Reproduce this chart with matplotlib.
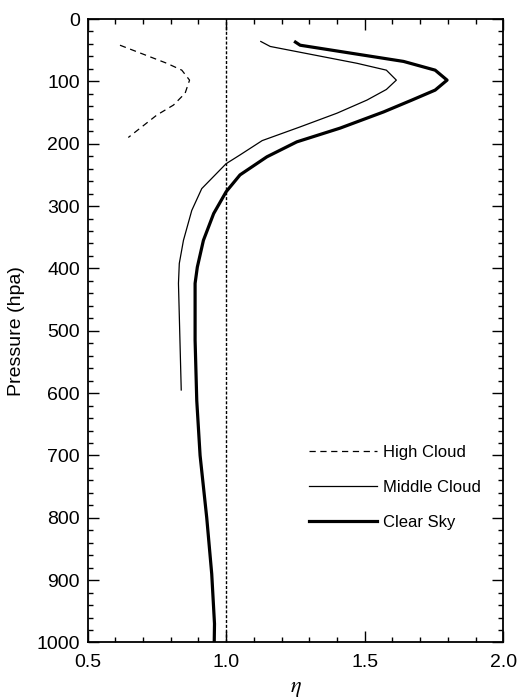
import numpy as np
import matplotlib
matplotlib.use('Agg')
import matplotlib.pyplot as plt
from matplotlib.ticker import MultipleLocator

plt.rcParams['font.family'] = ['Liberation Sans', 'DejaVu Sans']
plt.rcParams['mathtext.fontset'] = 'stix'
plt.rcParams['lines.scale_dashes'] = False

# clear sky (thick line)
p_clear = [37, 42, 68, 82, 98, 114, 130, 149, 175, 197, 221, 250, 277, 312,
           355, 398, 424, 515, 612, 700, 800, 890, 970, 1000]
eta_clear = [1.25, 1.267, 1.640, 1.754, 1.797, 1.754, 1.670, 1.568, 1.411, 1.255,
             1.147, 1.050, 1.0, 0.955, 0.918, 0.896, 0.888, 0.888, 0.894, 0.906,
             0.930, 0.948, 0.958, 0.957]

# middle cloud (thin line)
p_mid = [36, 44, 71, 82, 98, 113, 130, 151, 173, 195, 218, 232, 272,
         307, 355, 392, 424, 595]
eta_mid = [1.125, 1.159, 1.472, 1.578, 1.614, 1.578, 1.508, 1.400, 1.267, 1.13,
           1.05, 1.0, 0.912, 0.876, 0.846, 0.831, 0.828, 0.838]

# high cloud (dashed line)
p_high = [42, 71, 82, 98, 119, 138, 154, 190]
eta_high = [0.617, 0.786, 0.840, 0.868, 0.852, 0.810, 0.750, 0.647]

fig = plt.figure(figsize=(5.18, 6.97), dpi=100)
ax = fig.add_axes([0.169, 0.0782, 0.8027, 0.8945])

ax.axvline(1.0, color='black', lw=1.0, dashes=(2.2, 1.3))
ax.plot(eta_high, p_high, color='black', lw=0.9, dashes=(4.5, 3.3), label='High Cloud')
ax.plot(eta_mid, p_mid, color='black', lw=0.9, label='Middle Cloud')
ax.plot(eta_clear, p_clear, color='black', lw=2.3, label='Clear Sky')

ax.set_xlim(0.5, 2.0)
ax.set_ylim(1000, 0)
ax.xaxis.set_major_locator(MultipleLocator(0.5))
ax.xaxis.set_minor_locator(MultipleLocator(0.1))
ax.yaxis.set_major_locator(MultipleLocator(100))
ax.yaxis.set_minor_locator(MultipleLocator(20))
ax.xaxis.set_major_formatter(matplotlib.ticker.FormatStrFormatter('%.1f'))

ax.tick_params(which='both', direction='in', top=True, right=True, width=1.0)
ax.tick_params(which='major', length=8, labelsize=14)
ax.tick_params(which='minor', length=3.8)
ax.tick_params(axis='x', pad=8.5)
ax.tick_params(axis='y', pad=5.5)
for s in ax.spines.values():
    s.set_linewidth(1.3)

ax.set_ylabel('Pressure (hpa)', fontsize=14, va='center')
ax.yaxis.set_label_coords(-0.17, 0.5)
ax.set_xlabel(r'$\eta$', fontsize=16)
ax.xaxis.label.set_va('center')
ax.xaxis.set_label_coords(0.5, -0.073)

ax.legend(loc='center left', bbox_to_anchor=(309 / 518, 1 - 487 / 697),
          bbox_transform=fig.transFigure, frameon=False, fontsize=12,
          handlelength=4.1, handletextpad=0.35, labelspacing=1.2, borderpad=0,
          borderaxespad=0)

fig.savefig('out.png', dpi=100)
